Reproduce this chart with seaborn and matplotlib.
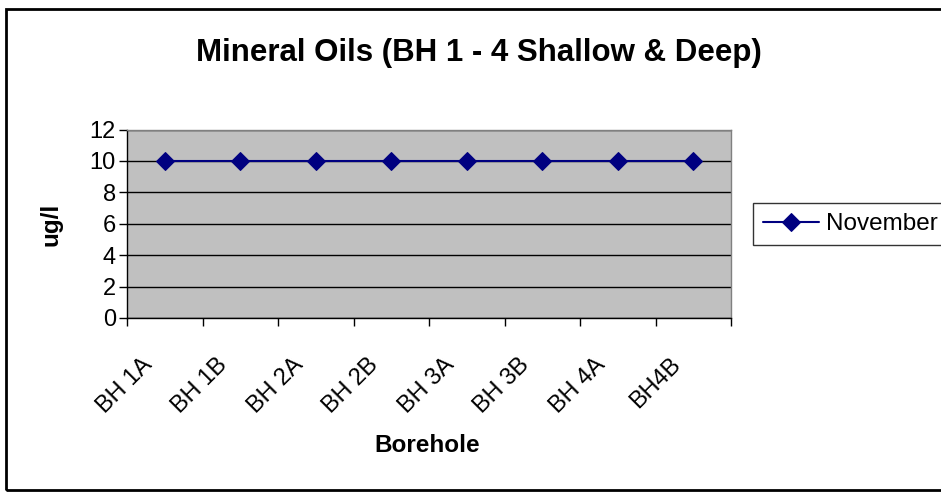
import pandas as pd
import matplotlib.pyplot as plt
import seaborn as sns
from matplotlib.patches import Rectangle
from matplotlib.transforms import ScaledTranslation

# Data
boreholes = ['BH 1A', 'BH 1B', 'BH 2A', 'BH 2B', 'BH 3A', 'BH 3B', 'BH 4A', 'BH4B']
november = [10, 10, 10, 10, 10, 10, 10, 10]

df = pd.DataFrame({'pos': range(len(boreholes)), 'Borehole': boreholes, 'November': november})

sns.set_style('white')
plt.rcParams['font.family'] = ['Liberation Sans', 'DejaVu Sans']
plt.rcParams['text.color'] = 'black'
plt.rcParams['xtick.color'] = 'black'
plt.rcParams['ytick.color'] = 'black'
plt.rcParams['axes.labelcolor'] = 'black'

fig = plt.figure(figsize=(9.41, 4.92), dpi=100)
W, H = 941, 492
ax = fig.add_axes([127 / W, 1 - 318 / H, (731 - 127) / W, (318 - 129.5) / H])
ax.set_facecolor('#c0c0c0')

sns.lineplot(data=df, x='pos', y='November', marker='D', color='#000080',
             markersize=9, markeredgecolor='#000080', linewidth=1.5,
             label='November', legend=False, ax=ax)

# Axes / ticks Excel-like: ticks between categories, labels at centres
n = len(boreholes)
ax.set_xlim(-0.5, n - 0.5)
ax.set_ylim(0, 12)
ax.set_yticks(range(0, 13, 2))
ax.set_xticks([i - 0.5 for i in range(n + 1)])
ax.set_xticklabels([])
ax.set_xticks(range(n), minor=True)
ax.set_xticklabels(boreholes, minor=True, rotation=45, ha='right', va='top',
                   rotation_mode='anchor', fontsize=17)
ax.tick_params(axis='x', which='minor', length=0, pad=0)
ax.tick_params(axis='x', which='major', direction='out', length=6, width=1, color='black', bottom=True)
ax.tick_params(axis='y', direction='out', length=6, width=1, color='black', labelsize=17, pad=2, left=True)
shift = ScaledTranslation(-24 / 100, -36 / 100, fig.dpi_scale_trans)
for lbl in ax.get_xticklabels(minor=True):
    lbl.set_transform(lbl.get_transform() + shift)
ax.grid(axis='y', color='black', linewidth=1)
ax.set_axisbelow(True)
ax.set_xlabel('')
ax.set_ylabel('')

for side in ['left', 'bottom']:
    ax.spines[side].set_color('black')
    ax.spines[side].set_linewidth(1)
for side in ['top', 'right']:
    ax.spines[side].set_color('#808080')
    ax.spines[side].set_linewidth(1)

# Titles and labels
fig.text(479 / W, 1 - 53 / H, 'Mineral Oils (BH 1 - 4 Shallow & Deep)',
         ha='center', va='center', fontsize=22.5, fontweight='bold')
fig.text(427 / W, 1 - 446 / H, 'Borehole', ha='center', va='center',
         fontsize=17.5, fontweight='bold')
fig.text(51 / W, 1 - 224 / H, 'ug/l', ha='center', va='center', rotation=90,
         fontsize=17.5, fontweight='bold')

# Legend
handles, labels = ax.get_legend_handles_labels()
leg = fig.legend(handles, labels, loc='upper left', bbox_to_anchor=(753 / W, 1 - 203 / H),
                 fontsize=17.5, frameon=True, fancybox=False, borderpad=0.42,
                 handlelength=2.3, handletextpad=0.3, borderaxespad=0)
leg.get_frame().set_edgecolor('black')
leg.get_frame().set_linewidth(1)

# Chart border (right edge falls outside the picture)
fig.patches.append(Rectangle((6 / W, 1 - 490 / H), 1.1, (490 - 9) / H,
                             transform=fig.transFigure, fill=False,
                             edgecolor='black', linewidth=2))

fig.savefig('out.png', dpi=100)
